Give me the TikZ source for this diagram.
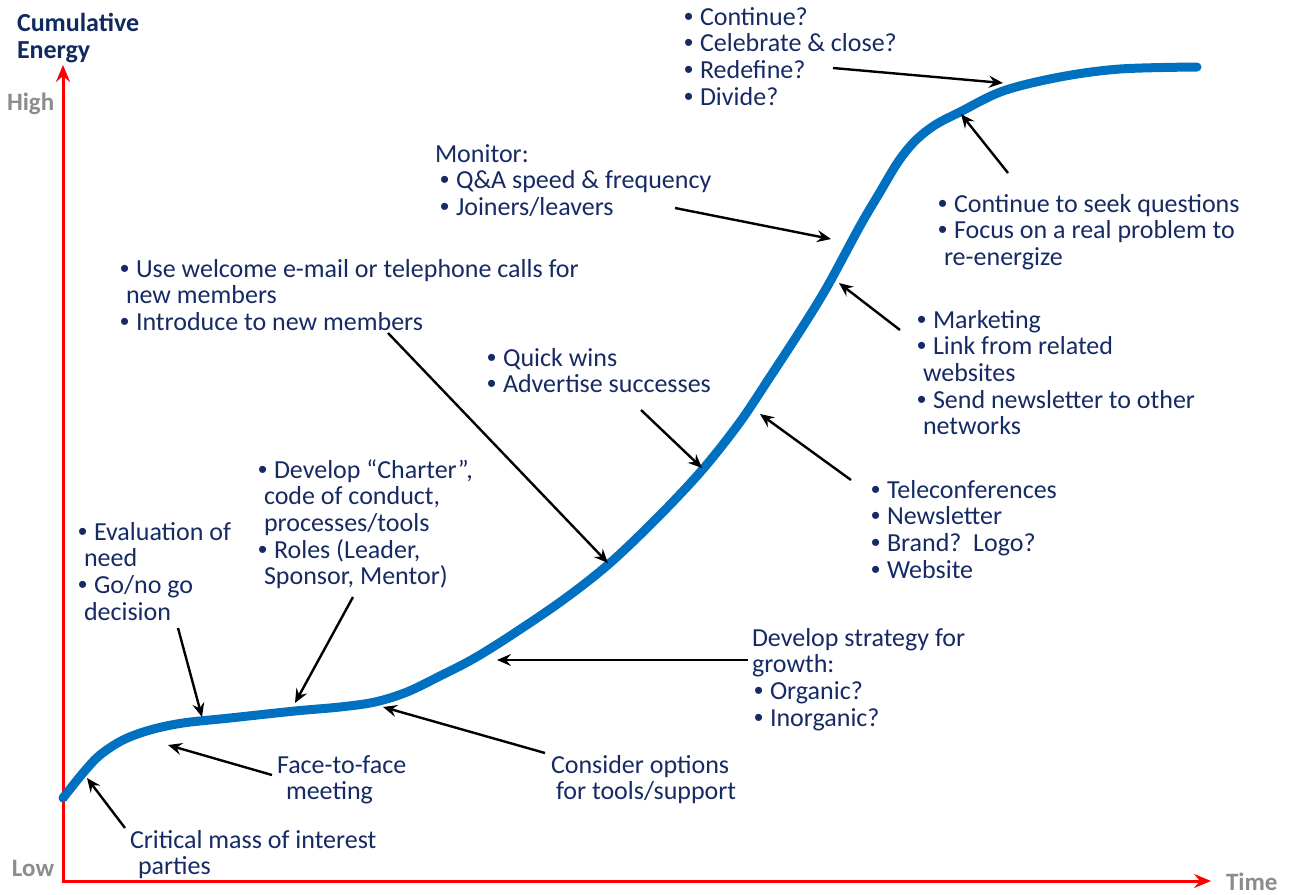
\documentclass[tikz,border=0pt]{standalone}
\usepackage{fontspec}
\setmainfont{Carlito}
\newfontfamily\bulfont{Liberation Sans}
\usetikzlibrary{arrows.meta}
\definecolor{navy}{RGB}{22,42,100}
\definecolor{titlenavy}{RGB}{14,42,94}
\definecolor{axisgray}{RGB}{140,140,140}
\definecolor{curveblue}{HTML}{0070C0}
\definecolor{axisred}{RGB}{255,0,0}
\newcommand\bl{\makebox[16pt][l]{\bulfont •}}
\newcommand\ind{\hspace{6pt}}
\tikzset{
  txt/.style={inner sep=0pt, outer sep=0pt, anchor=base west, text=navy,
    font=\fontsize{26}{26.7}\selectfont},
  ttl/.style={inner sep=0pt, outer sep=0pt, anchor=base west, text=titlenavy,
    font=\fontsize{26}{29}\selectfont\bfseries},
  lvl/.style={inner sep=0pt, outer sep=0pt, anchor=base west, text=axisgray,
    font=\fontsize{25}{29}\selectfont\bfseries},
  pointer/.style={draw=black, line width=2.4pt,
    -{Stealth[length=14pt,width=12pt,inset=5pt]}},
  axisline/.style={draw=axisred, line width=3pt,
    {Stealth[length=17pt,width=14pt,inset=6pt]}-{Stealth[length=17pt,width=14pt,inset=6pt]}},
  scurve/.style={draw=curveblue, line width=9pt, line cap=round, line join=round}
}
\begin{document}
\begin{tikzpicture}[x=1pt,y=-1pt]
\useasboundingbox (0,0) rectangle (1290,894);
% axes
\coordinate (ytip) at (63,65);
\coordinate (orig) at (63,881);
\coordinate (xtip) at (1211,881);
\draw[axisline] (ytip) -- (orig) -- (xtip);
% axis labels
\node[ttl] (tcum) at (17,31) {Cumulative};
\node[ttl] (tene) at (17,58) {Energy};
\node[lvl] (high) at (7,110) {High};
\node[lvl] (low) at (12,876) {Low};
\node[lvl] (time) at (1226,890) {Time};
% curve
\draw[scurve] plot[smooth, tension=0.55] coordinates {
 (63,798) (83,773) (100,755) (123,740) (150,730) (183,723) (230,718)
 (295,711) (340,707) (375,702) (407,692) (440,676) (473,659) (510,636)
 (563,600) (610,563) (660,515) (703,469) (740,422) (770,377) (800,331)
 (827,287) (860,226) (880,192) (898,162) (915,141) (935,125) (960,112)
 (1003,91) (1060,77) (1120,69) (1197,67)};
% text blocks
\node[txt] (bA) at (684,25) {\vtop{\hbox{\bl Continue?}\hbox{\bl Celebrate \& close?}\hbox{\bl Redefine?}\hbox{\bl Divide?}}};
\node[txt] (bB) at (435,162) {\vtop{\hbox{Monitor:}\hbox{\hspace{5pt}\bl Q\&A speed \& frequency}\hbox{\hspace{5pt}\bl Joiners/leavers}}};
\node[txt] (bC) at (938,212) {\vtop{\hbox{\bl Continue to seek questions}\hbox{\bl Focus on a real problem to}\hbox{\ind re-energize}}};
\node[txt] (bD) at (120,277) {\vtop{\hbox{\bl Use welcome e-mail or telephone calls for}\hbox{\ind new members}\hbox{\bl Introduce to new members}}};
\node[txt] (bE) at (917,328) {\vtop{\hbox{\bl Marketing}\hbox{\bl Link from related}\hbox{\ind websites}\hbox{\bl Send newsletter to other}\hbox{\ind networks}}};
\node[txt] (bF) at (487,366) {\vtop{\hbox{\bl Quick wins}\hbox{\bl Advertise successes}}};
\node[txt] (bG) at (258,478) {\vtop{\hbox{\bl Develop “Charter”,}\hbox{\ind code of conduct,}\hbox{\ind processes/tools}\hbox{\bl Roles (Leader,}\hbox{\ind Sponsor, Mentor)}}};
\node[txt] (bH) at (871,498) {\vtop{\hbox{\bl Teleconferences}\hbox{\bl Newsletter}\hbox{\bl Brand?\ \ Logo?}\hbox{\bl Website}}};
\node[txt] (bI) at (78,540) {\vtop{\hbox{\bl Evaluation of}\hbox{\ind need}\hbox{\bl Go/no go}\hbox{\ind decision}}};
\node[txt] (bJ) at (752,646) {\vtop{\hbox{Develop strategy for}\hbox{growth:}\hbox{\hspace{2pt}\bl Organic?}\hbox{\hspace{2pt}\bl Inorganic?}}};
\node[txt] (bK) at (277,773) {\vtop{\hbox{Face-to-face}\hbox{\hspace{9pt}meeting}}};
\node[txt] (bL) at (551,773) {\vtop{\hbox{Consider options}\hbox{\hspace{5pt}for tools/support}}};
\node[txt] (bM) at (130,848) {\vtop{\hbox{Critical mass of interest}\hbox{\hspace{8pt}parties}}};
% pointer ends
\coordinate (tA) at (833,68);   \coordinate (hA) at (1003,83);
\coordinate (tC) at (1008,173); \coordinate (hC) at (961,114);
\coordinate (tB) at (675,208);  \coordinate (hB) at (831,239);
\coordinate (tE) at (900,330);  \coordinate (hE) at (839,283);
\coordinate (tH) at (851,480);  \coordinate (hH) at (760,414);
\coordinate (tF) at (641,410);  \coordinate (hF) at (702,468);
\coordinate (tD) at (388,333);  \coordinate (hD) at (608,563);
\coordinate (tG) at (353,597);  \coordinate (hG) at (295,703);
\coordinate (tI) at (178,628);  \coordinate (hI) at (202,717);
\coordinate (tJ) at (748,660);  \coordinate (hJ) at (497,660);
\coordinate (tL) at (545,753);  \coordinate (hL) at (383,707);
\coordinate (tK) at (272,775);  \coordinate (hK) at (168,745);
\coordinate (tM) at (125,828);  \coordinate (hM) at (87,778);
\foreach \p in {A,B,C,D,E,F,G,H,I,J,K,L,M}{\draw[pointer] (t\p) -- (h\p);}
\end{tikzpicture}
\end{document}
